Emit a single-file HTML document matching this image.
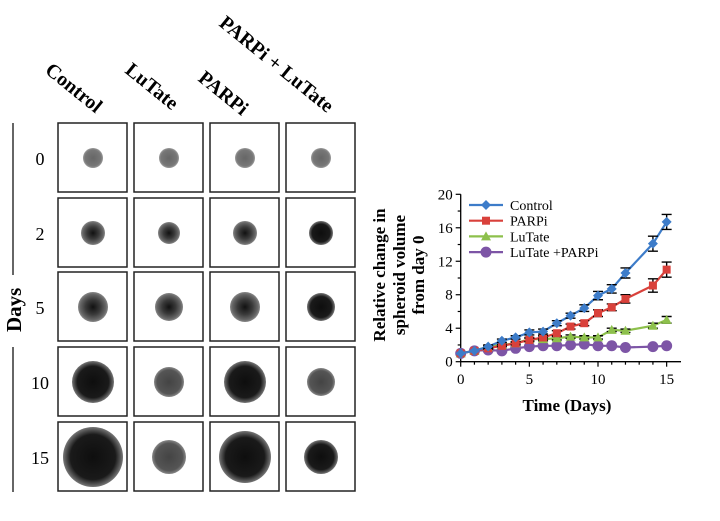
<!DOCTYPE html>
<html><head><meta charset="utf-8"><style>
html,body{margin:0;padding:0;background:#fff;}
body{width:720px;height:516px;overflow:hidden;}
svg text{font-family:"Liberation Serif",serif;}
</style></head><body>
<svg id="s" width="720" height="516" viewBox="0 0 720 516" xmlns="http://www.w3.org/2000/svg">
<defs>
<radialGradient id="g0"><stop offset="0" stop-color="#666"/><stop offset="0.8" stop-color="#777"/><stop offset="1" stop-color="#999"/></radialGradient>
<radialGradient id="g1"><stop offset="0" stop-color="#111"/><stop offset="0.5" stop-color="#3a3a3a"/><stop offset="0.85" stop-color="#666"/><stop offset="1" stop-color="#888"/></radialGradient>
<radialGradient id="g2"><stop offset="0" stop-color="#0e0e0e"/><stop offset="0.75" stop-color="#1a1a1a"/><stop offset="0.9" stop-color="#505050"/><stop offset="1" stop-color="#777"/></radialGradient>
<radialGradient id="g3"><stop offset="0" stop-color="#444"/><stop offset="0.8" stop-color="#555"/><stop offset="1" stop-color="#888"/></radialGradient>
</defs>
<g font-weight="bold" font-size="20" fill="#000">
<text transform="translate(44,72) rotate(39)">Control</text>
<text transform="translate(124,72) rotate(39)">LuTate</text>
<text transform="translate(197,80) rotate(39)">PARPi</text>
<text transform="translate(218,25) rotate(39)">PARPi + LuTate</text>
</g>
<line x1="13" y1="123" x2="13" y2="275" stroke="#333" stroke-width="1.5"/>
<line x1="13" y1="347" x2="13" y2="492" stroke="#333" stroke-width="1.5"/>
<text transform="translate(21,332) rotate(-90)" font-size="21" font-weight="bold">Days</text>
<g id="grid"></g>
<g id="chart"></g>
</svg>
<script>
var NS="http://www.w3.org/2000/svg";
function el(p,t,a,txt){var e=document.createElementNS(NS,t);for(var k in a)e.setAttribute(k,a[k]);if(txt!=null)e.textContent=txt;p.appendChild(e);return e;}
var grid=document.getElementById('grid');
var cols=[58,134,210,286],rows=[123,198,272,347,422],labels=["0","2","5","10","15"];
var radii=[[10,10,10,10],[12,11,12,12],[15,14,15,14],[21,15,21,14],[30,17,26,17]];
var grads=[["g0","g0","g0","g0"],["g1","g1","g1","g2"],["g1","g1","g1","g2"],["g2","g3","g2","g3"],["g2","g3","g2","g2"]];
for(var r=0;r<5;r++){
 el(grid,'text',{x:40,y:rows[r]+42,'font-size':18,'text-anchor':'middle'},labels[r]);
 for(var c=0;c<4;c++){
  el(grid,'rect',{x:cols[c],y:rows[r],width:69,height:69,fill:'#fff',stroke:'#222','stroke-width':1.5});
  el(grid,'circle',{cx:cols[c]+35,cy:rows[r]+35,r:radii[r][c],fill:'url(#'+grads[r][c]+')'});
 }
}
var ch=document.getElementById('chart');
var X=function(d){return 460.7+d*13.73;},Y=function(v){return 361.7-v*8.37;};
el(ch,'line',{x1:X(0),y1:Y(0),x2:681,y2:Y(0),stroke:'#000','stroke-width':1.3});
el(ch,'line',{x1:X(0),y1:Y(0),x2:X(0),y2:Y(20),stroke:'#000','stroke-width':1.3});
for(var d=0;d<=15;d++)el(ch,'line',{x1:X(d),y1:Y(0),x2:X(d),y2:Y(0)+(d%5?3:5),stroke:'#000','stroke-width':1.2});
[0,5,10,15].forEach(function(d){el(ch,'text',{x:X(d),y:384,'font-size':15,'text-anchor':'middle'},d);});
for(var v=0;v<=20;v+=2)el(ch,'line',{x1:X(0)-(v%4?3:5),y1:Y(v),x2:X(0),y2:Y(v),stroke:'#000','stroke-width':1.2});
for(var v=0;v<=20;v+=4)el(ch,'text',{x:X(0)-8,y:Y(v)+5,'font-size':15,'text-anchor':'end'},v);
el(ch,'text',{x:567,y:411,'font-size':17,'font-weight':'bold','text-anchor':'middle'},'Time (Days)');
var yl=el(ch,'text',{transform:'translate(399,275) rotate(-90)','font-size':17,'font-weight':'bold','text-anchor':'middle'});
[['Relative change in',-14],['spheroid volume',6],['from day 0',25]].forEach(function(l){el(yl,'tspan',{x:0,y:l[1]},l[0]);});
var days=[0,1,2,3,4,5,6,7,8,9,10,11,12,14,15];
var S=[
 {c:'#3d7cc9',m:'d',v:[1,1.3,1.8,2.5,2.9,3.5,3.6,4.6,5.5,6.4,7.9,8.7,10.6,14.1,16.7],e:[0,0,.2,.2,.2,.3,.3,.3,.3,.4,.5,.5,.6,.9,.9]},
 {c:'#d9413b',m:'s',v:[1,1.3,1.6,1.9,2.2,2.6,2.9,3.4,4.2,4.6,5.8,6.5,7.5,9.1,11.0],e:[0,0,.1,.1,.2,.2,.2,.3,.3,.3,.4,.4,.5,.8,.9]},
 {c:'#8dc04c',m:'t',v:[1,1.3,1.8,2.0,2.2,2.7,2.7,2.8,3.0,2.9,2.9,3.8,3.7,4.3,5.0],e:[0,0,.1,.1,.1,.2,.2,.2,.2,.2,.2,.2,.2,.3,.4]},
 {c:'#7d55a6',m:'o',v:[1,1.3,1.4,1.3,1.6,1.8,1.9,1.9,2.0,2.1,1.9,1.9,1.7,1.8,1.9],e:[0,0,0,0,.1,.1,.1,.1,.1,.1,.1,.1,.1,.1,.1]}
];
function marker(g,m,x,y,c){
 if(m=='d')el(g,'polygon',{points:(x)+','+(y-5)+' '+(x+5)+','+y+' '+x+','+(y+5)+' '+(x-5)+','+y,fill:c});
 else if(m=='s')el(g,'rect',{x:x-4,y:y-4,width:8,height:8,fill:c});
 else if(m=='t')el(g,'polygon',{points:x+','+(y-5)+' '+(x+5)+','+(y+4)+' '+(x-5)+','+(y+4),fill:c});
 else el(g,'circle',{cx:x,cy:y,r:5.5,fill:c});
}
for(var i=S.length-1;i>=0;i--){
 var s=S[i],pts=[];
 for(var j=0;j<days.length;j++)pts.push(X(days[j])+','+Y(s.v[j]));
 el(ch,'polyline',{points:pts.join(' '),fill:'none',stroke:s.c,'stroke-width':2.2});
 for(var j=0;j<days.length;j++){
  var x=X(days[j]),y=Y(s.v[j]);
  if(s.e[j]>0){var a=Y(s.v[j]+s.e[j]),b=Y(s.v[j]-s.e[j]);
   el(ch,'path',{d:'M'+x+' '+a+'V'+b+'M'+(x-5)+' '+a+'H'+(x+5)+'M'+(x-5)+' '+b+'H'+(x+5),stroke:'#000','stroke-width':1.4,fill:'none'});}
  marker(ch,s.m,x,y,s.c);
 }
}
var leg=[['Control','#3d7cc9','d'],['PARPi','#d9413b','s'],['LuTate','#8dc04c','t'],['LuTate +PARPi','#7d55a6','o']];
leg.forEach(function(l,i){var y=205+i*15.7;
 el(ch,'line',{x1:469,y1:y,x2:503,y2:y,stroke:l[1],'stroke-width':2.2});
 marker(ch,l[2],486,y,l[1]);
 el(ch,'text',{x:510,y:y+5,'font-size':14},l[0]);});
</script>
</body></html>
